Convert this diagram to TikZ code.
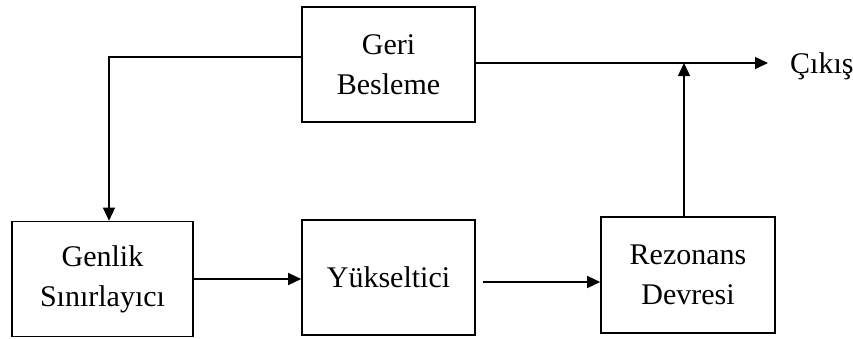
\documentclass[tikz,border=0pt]{standalone}
\usepackage{fontspec}
\setmainfont{Liberation Serif}
\usetikzlibrary{arrows.meta}
\begin{document}
\begin{tikzpicture}[x=1pt,y=-1pt,
  blk/.style={draw, line width=1.6pt, minimum width=173pt, minimum height=115pt, align=center,
    font=\fontsize{30}{40}\selectfont, inner sep=0pt},
  arr/.style={line width=1.4pt, -{Triangle[length=13pt,width=12pt]}}]
\useasboundingbox (0,0) rectangle (853,338);
\node[blk] (geri) at (388.5,64.5) {Geri\\Besleme};
\node[blk, minimum width=181pt] (genlik) at (102.5,279) {Genlik\\Sınırlayıcı};
\node[blk] (yuk) at (388.5,277.5) {Yükseltici};
\node[blk, minimum width=174pt, minimum height=116pt] (rez) at (688,275) {Rezonans\\Devresi};
\coordinate (out) at (768,63);
\coordinate (j) at (684,63);
\node[anchor=west, font=\fontsize{30}{36}\selectfont, inner sep=0pt] (cikis) at (790,66) {Çıkış};
\draw[arr] ([yshift=7.5pt]geri.west) -| ([xshift=6.5pt]genlik.north);
\draw[arr] ([yshift=1.5pt]geri.east) -- (out);
\draw[arr] (rez.north -| j) -- (j);
\draw[arr] (genlik.east) -- (genlik.east -| yuk.west);
\draw[arr] ([shift={(7pt,-4.5pt)}]yuk.east) coordinate (a) -- (a -| rez.west);
\end{tikzpicture}
\end{document}
